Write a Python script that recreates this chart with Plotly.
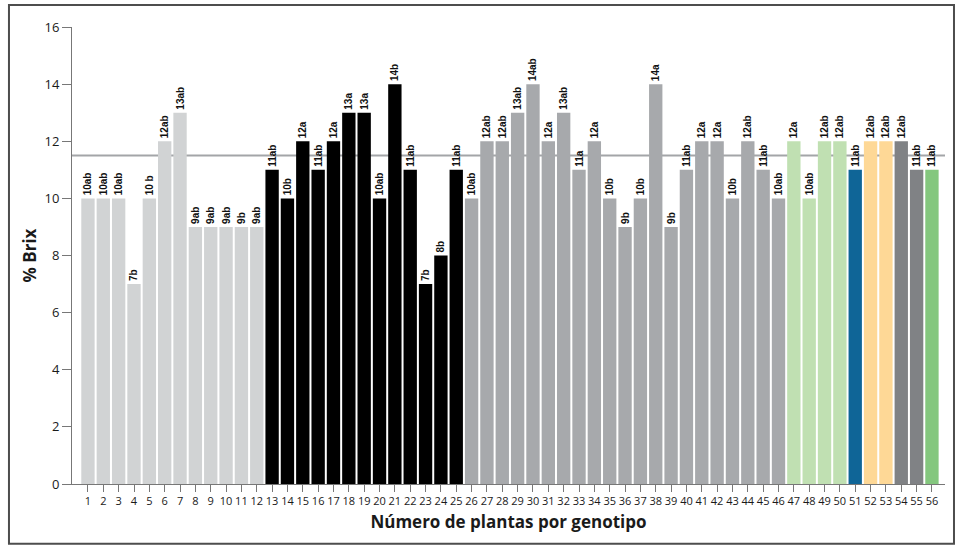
import plotly.graph_objects as go

# plant number per genotype (x categories)
plants = list(range(1, 57))

# % Brix per plant
brix = [10, 10, 10, 7, 10, 12, 13, 9, 9, 9, 9, 9,
        11, 10, 12, 11, 12, 13, 13, 10, 14, 11, 7, 8, 11,
        10, 12, 12, 13, 14, 12, 13, 11, 12, 10, 9, 10, 14, 9, 11, 12, 12, 10, 12, 11, 10,
        12, 10, 12, 12,
        11,
        12, 12,
        12, 11,
        11]

# letters from the mean comparison shown on top of each bar
labels = ["10ab", "10ab", "10ab", "7b", "10 b", "12ab", "13ab", "9ab", "9ab", "9ab", "9b", "9ab",
          "11ab", "10b", "12a", "11ab", "12a", "13a", "13a", "10ab", "14b", "11ab", "7b", "8b", "11ab",
          "10ab", "12ab", "12ab", "13ab", "14ab", "12a", "13ab", "11a", "12a", "10b", "9b", "10b",
          "14a", "9b", "11ab", "12a", "12a", "10b", "12ab", "11ab", "10ab",
          "12a", "10ab", "12ab", "12ab",
          "11ab",
          "12ab", "12ab",
          "12ab", "11ab",
          "11ab"]

# genotype groups: number of plants in each
group_sizes = [12, 13, 21, 4, 1, 2, 2, 1]

reference = 11.5

# one colour per genotype group
group_colors = ["#d1d3d4", "#000000", "#a7a9ac", "#c0e0b2",
                "#0f6597", "#fed896", "#808285", "#84c77e"]

bar_colors = []
for size, color in zip(group_sizes, group_colors):
    bar_colors += [color] * size

fig = go.Figure()

fig.add_trace(go.Bar(
    x=plants,
    y=brix,
    text=labels,
    textposition="outside",
    textangle=-90,
    constraintext="none",
    cliponaxis=False,
    textfont=dict(family="Liberation Sans Narrow, Arial Narrow, sans-serif",
                  size=10, color="#111111", weight="bold"),
    marker=dict(color=bar_colors, line=dict(width=0)),
    width=0.87,
    showlegend=False,
))

# average line behind the bars
fig.add_shape(
    type="line",
    xref="paper", yref="y",
    x0=0, x1=1,
    y0=reference, y1=reference,
    line=dict(color="#a3a5a8", width=2),
    layer="below",
)

# frame around the whole figure
fig.add_shape(
    type="rect",
    xref="paper", yref="paper",
    x0=-0.0722, x1=1.0103,
    y0=-0.131, y1=1.048,
    line=dict(color="#4d4d4d", width=2),
)

fig.update_layout(
    width=960,
    height=552,
    margin=dict(l=72, r=15, t=27, b=68),
    plot_bgcolor="white",
    paper_bgcolor="white",
    font=dict(family="Open Sans, sans-serif", color="#1a1a1a"),
    xaxis=dict(
        range=[-0.04, 56.85],
        tickvals=plants,
        ticktext=[str(p) for p in plants],
        tickangle=0,
        ticks="outside",
        ticklen=7,
        tickcolor="#777777",
        tickfont=dict(size=11, color="#1a1a1a"),
        showline=True,
        linecolor="#777777",
        linewidth=1,
        showgrid=False,
        zeroline=False,
        title=dict(text="<b>Número de plantas por genotipo</b>",
                   font=dict(size=17, color="#1a1a1a"), standoff=8),
    ),
    yaxis=dict(
        range=[0, 16],
        dtick=2,
        ticks="outside",
        ticklen=9,
        tickcolor="#777777",
        tickfont=dict(size=13, color="#1a1a1a"),
        showline=True,
        linecolor="#777777",
        linewidth=1,
        showgrid=False,
        zeroline=False,
        title=dict(text="<b>% Brix</b>",
                   font=dict(size=17, color="#1a1a1a"), standoff=3),
    ),
)

fig.write_html("out.html", config={"displayModeBar": False},
               post_script="document.body.style.margin='0px';")
